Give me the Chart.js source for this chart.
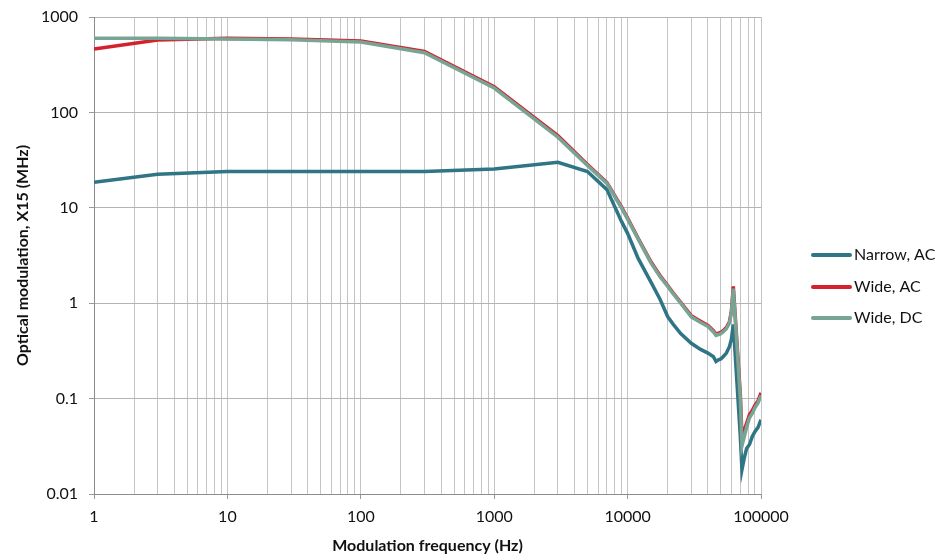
<!DOCTYPE html>
<html>
<head>
<meta charset="utf-8">
<script src="https://cdn.jsdelivr.net/npm/chart.js@4"></script>
<style>
  html, body { margin: 0; padding: 0; background: #fff; }
  #wrap { width: 943px; height: 555px; position: relative; }
</style>
</head>
<body>
<div id="wrap"><canvas id="chart"></canvas></div>
<script>
// Modulation frequency (Hz)
const freq = [1, 3, 10, 30, 100, 300, 1000, 3000, 5000, 7000, 9000, 10000, 12000, 15000, 17500,
  20000, 22000, 25000, 30000, 35000, 40000, 44000, 46000, 48000, 50000, 52000, 55000,
  58000, 60000, 62000, 70000, 72000, 75000, 78000, 82000, 86000, 90000, 95000, 100000];

// Optical modulation, X15 (MHz)
const narrowAC = [18.5, 22.5, 24, 24, 24, 24, 25.5, 30, 24, 15.5, 7.2, 5.4, 2.95, 1.65, 1.1,
  0.72, 0.6, 0.48, 0.38, 0.33, 0.3, 0.275, 0.245, 0.255, 0.26, 0.275, 0.3,
  0.35, 0.42, 0.6, 0.04, 0.018, 0.024, 0.03, 0.033, 0.04, 0.045, 0.05, 0.06];

const wideAC = [462, 575, 600, 588, 560, 435, 186, 57, 28.5, 18.4, 10.2, 7.8, 4.8, 2.7, 1.95,
  1.53, 1.28, 1.02, 0.74, 0.65, 0.585, 0.515, 0.475, 0.485, 0.495, 0.515, 0.555,
  0.64, 0.82, 1.5, 0.11, 0.04, 0.047, 0.055, 0.068, 0.075, 0.085, 0.095, 0.115];

const wideDC = [600, 600, 588, 578, 548, 422, 180, 55, 27.8, 18, 10, 7.6, 4.7, 2.63, 1.9,
  1.5, 1.25, 1.0, 0.72, 0.63, 0.57, 0.5, 0.46, 0.47, 0.48, 0.5, 0.54,
  0.62, 0.8, 1.42, 0.1, 0.032, 0.04, 0.05, 0.063, 0.07, 0.08, 0.09, 0.108];

const seriesNames = ["Narrow, AC", "Wide, AC", "Wide, DC"];
const seriesColors = ["#2f7585", "#d2232c", "#78a496"];

const xMajor = [1, 10, 100, 1000, 10000, 100000];
const xTickLabels = ["1", "10", "100", "1000", "10000", "100000"];
const yMajor = [0.01, 0.1, 1, 10, 100, 1000];
const yTickLabels = ["0.01", "0.1", "1", "10", "100", "1000"];

// every 1..9 step of each decade gets a vertical grid line
const xGridTicks = [];
xMajor.forEach((d, i) => {
  if (i === xMajor.length - 1) { xGridTicks.push(d); return; }
  for (let k = 1; k <= 9; k++) xGridTicks.push(d * k);
});

const FONT = "Lato, 'Open Sans', sans-serif";

function toPoints(ys) {
  return freq.map((f, i) => ({ x: f, y: ys[i] }));
}

// legend drawn at the right, like the spreadsheet original
const sideLegend = {
  id: "sideLegend",
  afterDraw(chart) {
    const ctx = chart.ctx;
    const x0 = 813, x1 = 850, tx = 854;
    const rows = [255, 287, 318];
    ctx.save();
    ctx.font = "16px " + FONT;
    ctx.textBaseline = "middle";
    chart.data.datasets.forEach((ds, i) => {
      ctx.strokeStyle = ds.borderColor;
      ctx.lineWidth = 4;
      ctx.lineCap = "round";
      ctx.beginPath();
      ctx.moveTo(x0, rows[i]);
      ctx.lineTo(x1, rows[i]);
      ctx.stroke();
      ctx.fillStyle = "#111";
      ctx.fillText(ds.label, tx, rows[i]);
    });
    ctx.restore();
  }
};

const datasetsData = [narrowAC, wideAC, wideDC];

new Chart(document.getElementById("chart"), {
  type: "line",
  data: {
    datasets: datasetsData.map((ys, i) => ({
      label: seriesNames[i],
      data: toPoints(ys),
      borderColor: seriesColors[i],
      backgroundColor: seriesColors[i],
      borderWidth: 3.5,
      pointRadius: 0,
      tension: 0,
      order: 3 - i
    }))
  },
  options: {
    responsive: true,
    maintainAspectRatio: false,
    animation: false,
    layout: { padding: { top: 17, right: 182, left: 0, bottom: 0 } },
    plugins: {
      legend: { display: false },
      tooltip: { enabled: false }
    },
    scales: {
      x: {
        type: "logarithmic",
        min: 1,
        max: 100000,
        afterBuildTicks: s => { s.ticks = xGridTicks.map(v => ({ value: v })); },
        afterFit: s => { s.height = 61; },
        grid: {
          color: "#c4c4c4",
          lineWidth: 1,
          tickLength: 5,
          tickColor: c => (c.tick && xMajor.includes(c.tick.value)) ? "#999" : "rgba(0,0,0,0)"
        },
        border: { color: "#8c8c8c" },
        ticks: {
          autoSkip: false,
          maxRotation: 0,
          padding: 8,
          color: "#111",
          font: { family: FONT, size: 16 },
          callback: v => {
            const i = xMajor.indexOf(v);
            return i >= 0 ? xTickLabels[i] : "";
          }
        },
        title: {
          display: true,
          text: "Modulation frequency (Hz)",
          color: "#111",
          font: { family: FONT, size: 16, weight: "bold" },
          padding: { top: 4, bottom: 0 }
        }
      },
      y: {
        type: "logarithmic",
        min: 0.01,
        max: 1000,
        afterBuildTicks: s => { s.ticks = yMajor.map(v => ({ value: v })); },
        afterFit: s => { s.width = 94; s.paddingTop = 0; },
        grid: {
          color: "#b4b4b4",
          lineWidth: 1,
          tickLength: 5,
          tickColor: "#999"
        },
        border: { color: "#8c8c8c" },
        ticks: {
          padding: 11,
          color: "#111",
          font: { family: FONT, size: 16 },
          callback: v => {
            const i = yMajor.indexOf(v);
            return i >= 0 ? yTickLabels[i] : "";
          }
        },
        title: {
          display: true,
          text: "Optical modulation, X15 (MHz)",
          color: "#111",
          font: { family: FONT, size: 16, weight: "bold" },
          padding: { top: 13, bottom: 0 }
        }
      }
    }
  },
  plugins: [sideLegend]
});
</script>
</body>
</html>
